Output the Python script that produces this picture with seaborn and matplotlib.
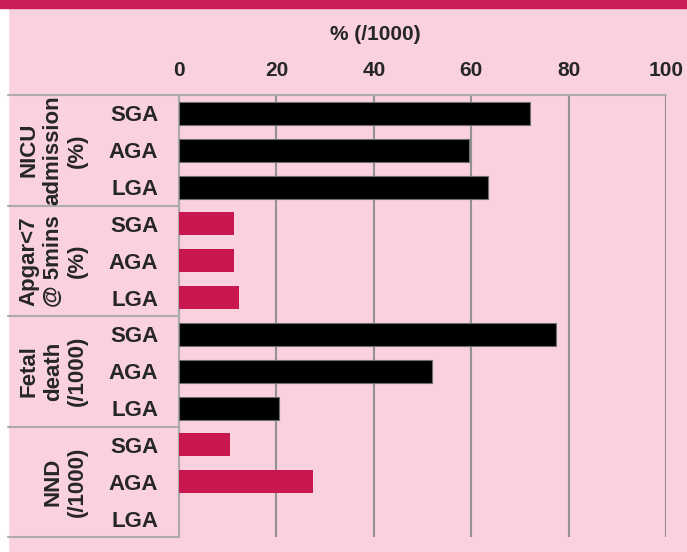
import matplotlib
matplotlib.use("Agg")
import matplotlib.pyplot as plt
from matplotlib.patches import Rectangle
import seaborn as sns
import pandas as pd

# data
groups = ["NICU\nadmission\n(%)", "Apgar<7\n@ 5mins\n(%)", "Fetal\ndeath\n(/1000)", "NND\n(/1000)"]
sizes = ["SGA", "AGA", "LGA"]
nicu = [72.1, 59.6, 63.4]
apgar = [11.2, 11.2, 12.3]
fetal = [77.4, 52.0, 20.5]
nnd = [10.5, 27.5, 0.0]
xticks = [0, 20, 40, 60, 80, 100]

PINK = "#FAD1DF"
CRIMSON = "#C8184F"
BAND = "#C91E56"
GRID = "#929292"
TABLE = "#ABABAB"

group_colors = ["black", CRIMSON, "black", CRIMSON]

rows, vals, cols = [], [], []
for g, series, c in zip(groups, [nicu, apgar, fetal, nnd], group_colors):
    for s, v in zip(sizes, series):
        rows.append(g.split("\n")[0] + "|" + s)
        vals.append(v)
        cols.append(c)
df = pd.DataFrame({"row": rows, "value": vals})
palette = dict(zip(rows, cols))

sns.set_style("white")
plt.rcParams["font.family"] = ["Liberation Sans", "DejaVu Sans"]
plt.rcParams["font.weight"] = "bold"

W, H = 687, 552
fig = plt.figure(figsize=(W / 100, H / 100), dpi=100, facecolor=PINK)
ax = fig.add_axes([179 / W, 1 - 537 / H, 487 / W, (537 - 95) / H])
ax.set_facecolor(PINK)

sns.barplot(data=df, x="value", y="row", hue="row", palette=palette,
            orient="h", width=0.62, saturation=1, legend=False, ax=ax, zorder=3)
for p, c in zip(ax.patches, cols):
    if c == "black":
        p.set_edgecolor("#6E6E6E")
        p.set_linewidth(0.8)
    else:
        p.set_linewidth(0)

ax.set_xlim(0, 100)
ax.set_ylim(11.5, -0.5)
ax.xaxis.tick_top()
ax.set_xticks(xticks)
ax.set_xticklabels([str(t) for t in xticks], fontsize=15, fontweight="bold")
ax.tick_params(axis="x", length=0, pad=10.5)
ax.set_yticks(range(12))
ax.set_yticklabels(sizes * 4, fontsize=16, fontweight="bold")
ax.tick_params(axis="y", length=0, pad=15)
ax.set_xlabel("")
ax.set_ylabel("")
for x in xticks:
    ax.axvline(x, color=GRID, lw=1.5, zorder=1)
for s in ax.spines.values():
    s.set_visible(False)

# category table on the left
tr = ax.get_yaxis_transform()
x_left = (8 - 179) / 487
ax.plot([x_left, 1], [-0.5, -0.5], color=TABLE, lw=1.5, transform=tr, clip_on=False)
for yb in [2.5, 5.5, 8.5, 11.5]:
    ax.plot([x_left, 0], [yb, yb], color=TABLE, lw=1.5, transform=tr, clip_on=False)
ax.plot([0, 0], [-0.5, 11.5], color=TABLE, lw=1.5, transform=tr, clip_on=False)
for i, g in enumerate(groups):
    ax.text((88 - 179) / 487, 3 * i + 1, g, transform=tr, rotation=90,
            ha="right", va="center", multialignment="center",
            fontsize=16, fontweight="bold", linespacing=1.2)

fig.text(375 / W, 1 - 34 / H, "% (/1000)", ha="center", va="center",
         fontsize=15, fontweight="bold")

# page decorations
fig.patches.append(Rectangle((0, 0), 8 / W, 1, transform=fig.transFigure,
                             color="white", zorder=-1))
fig.patches.append(Rectangle((0, 1 - 8 / H), 1, 8 / H, transform=fig.transFigure,
                             color=BAND, zorder=0))

fig.savefig("out.png", dpi=100, facecolor=PINK)
